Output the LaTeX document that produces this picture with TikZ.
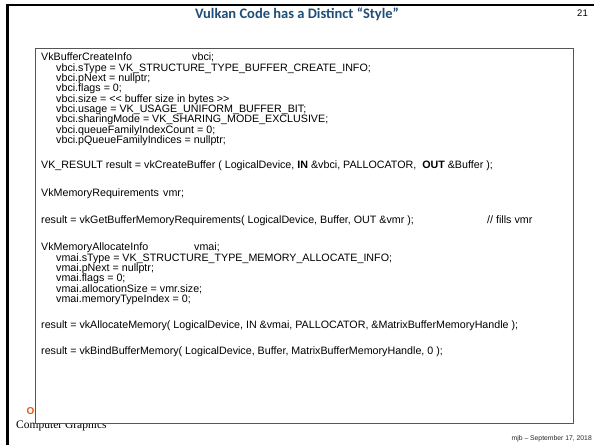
\documentclass[tikz,border=0pt]{standalone}
\usepackage{fontspec}
\setmainfont{Liberation Sans}
\newfontfamily\titlefont{Carlito}
\newfontfamily\seriffont{Liberation Serif}
\definecolor{titleblue}{HTML}{1F4E79}
\definecolor{osuorange}{HTML}{E2551B}
\definecolor{boxgray}{HTML}{555555}
\begin{document}
\begin{tikzpicture}[x=1pt,y=-1pt,
  code/.style={anchor=base west,inner sep=0pt,font=\fontsize{10.7}{10.7}\selectfont},
  frameline/.style={line width=2.6pt,black}]
\useasboundingbox (0,0) rectangle (594,445);
\fill[white] (0,0) rectangle (594,445);
% slide frame
\draw[frameline] (7.5,445) -- (7.5,5) -- (594,5);
% title and page number
\node[anchor=base,inner sep=0pt,text=titleblue,font=\titlefont\bfseries\fontsize{14.5}{14.5}\selectfont] (title) at (297,18) {Vulkan Code has a Distinct “Style”};
\node[anchor=base east,inner sep=0pt,font=\fontsize{9.5}{9.5}\selectfont] (pagenum) at (588,16) {21};
% footer, partly covered by the code panel
\node[anchor=base west,inner sep=0pt,text=osuorange,font=\bfseries\fontsize{10}{10}\selectfont] (osu) at (26.5,414) {Oregon State};
\node[anchor=base west,inner sep=0pt,font=\seriffont\fontsize{11.5}{11.5}\selectfont] (cg) at (16,428) {Computer Graphics};
\node[anchor=base east,inner sep=0pt,text=black!85,font=\fontsize{6.8}{6.8}\selectfont] (date) at (592,440) {mjb – September 17, 2018};
% code panel
\draw[boxgray,fill=white,line width=0.8pt] (35.5,48.5) rectangle (573,423);
\node[code] (c1) at (41,60) {\makebox[151pt][l]{VkBufferCreateInfo}vbci;};
\node[code] (c2) at (56,71) {vbci.sType = VK\_STRUCTURE\_TYPE\_BUFFER\_CREATE\_INFO;};
\node[code] (c3) at (56,81) {vbci.pNext = nullptr;};
\node[code] (c4) at (56,91) {vbci.flags = 0;};
\node[code] (c5) at (56,102) {vbci.size = <{}< buffer size in bytes >{}>};
\node[code] (c6) at (56,112) {vbci.usage = VK\_USAGE\_UNIFORM\_BUFFER\_BIT;};
\node[code] (c7) at (56,122) {vbci.sharingMode = VK\_SHARING\_MODE\_EXCLUSIVE;};
\node[code] (c8) at (56,133) {vbci.queueFamilyIndexCount = 0;};
\node[code] (c9) at (56,143) {vbci.pQueueFamilyIndices = nullptr;};
\node[code] (c10) at (41,168) {VK\_RESULT result = vkCreateBuffer ( LogicalDevice, \textbf{IN} \&vbci, PALLOCATOR,\ \ \textbf{OUT} \&Buffer );};
\node[code] (c11) at (41,196) {\makebox[122pt][l]{VkMemoryRequirements}vmr;};
\node[code] (c12) at (41,223) {result = vkGetBufferMemoryRequirements( LogicalDevice, Buffer, OUT \&vmr );};
\node[code] (c12b) at (487,223) {// fills vmr};
\node[code] (c13) at (41,250) {\makebox[153pt][l]{VkMemoryAllocateInfo}vmai;};
\node[code] (c14) at (56,261) {vmai.sType = VK\_STRUCTURE\_TYPE\_MEMORY\_ALLOCATE\_INFO;};
\node[code] (c15) at (56,271) {vmai.pNext = nullptr;};
\node[code] (c16) at (56,281) {vmai.flags = 0;};
\node[code] (c17) at (56,292) {vmai.allocationSize = vmr.size;};
\node[code] (c18) at (56,302) {vmai.memoryTypeIndex = 0;};
\node[code] (c19) at (41,328) {result = vkAllocateMemory( LogicalDevice, IN \&vmai, PALLOCATOR, \&MatrixBufferMemoryHandle );};
\node[code] (c20) at (41,354) {result = vkBindBufferMemory( LogicalDevice, Buffer, MatrixBufferMemoryHandle, 0 );};
\end{tikzpicture}
\end{document}
